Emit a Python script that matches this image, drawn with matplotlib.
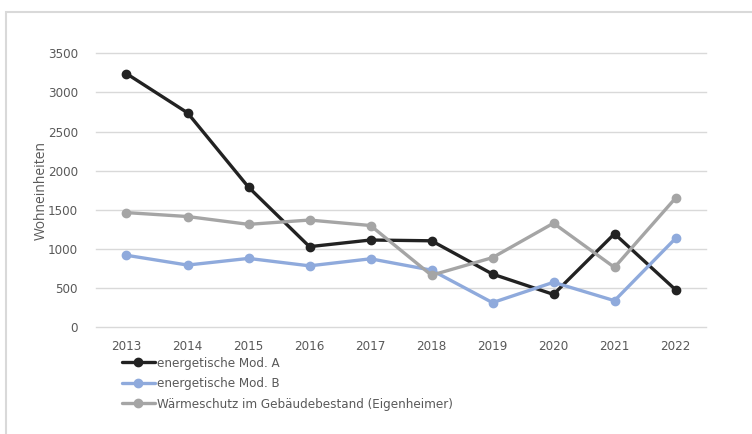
import matplotlib
matplotlib.use("Agg")
import matplotlib.pyplot as plt
import matplotlib.patches as patches

years = ["2013", "2014", "2015", "2016", "2017", "2018", "2019", "2020", "2021", "2022"]
mod_a = [3240, 2740, 1790, 1030, 1115, 1105, 680, 420, 1195, 480]
mod_b = [920, 795, 880, 785, 875, 730, 315, 575, 340, 1135]
waermeschutz = [1465, 1415, 1315, 1370, 1300, 665, 890, 1330, 765, 1650]

series = [
    ("energetische Mod. A", mod_a, "#222222"),
    ("energetische Mod. B", mod_b, "#8FAADC"),
    ("Wärmeschutz im Gebäudebestand (Eigenheimer)", waermeschutz, "#A5A5A5"),
]

tick_font = ["DejaVu Sans"]
text_color = "#595959"

fig = plt.figure(figsize=(7.52, 4.34), dpi=100)
fig.patch.set_facecolor("white")

# thin frame around the chart area
fig.patches.append(patches.Rectangle((6 / 752, -0.05), 1.1, (434 - 12) / 434 + 0.05,
                                     transform=fig.transFigure, fill=False,
                                     edgecolor="#D9D9D9", linewidth=1.5))

ax = fig.add_axes([96 / 752, 1 - 327.3 / 434, (706 - 96) / 752, (327.3 - 53.3) / 434])
ax.patch.set_visible(False)

x = list(range(len(years)))
for label, values, color in series:
    ax.plot(x, values, color=color, linewidth=2.4, marker="o", markersize=6,
            label=label, solid_capstyle="round", zorder=3)

ax.set_xlim(-0.5, len(years) - 0.5)
ax.set_ylim(0, 3500)
ax.set_yticks(range(0, 3501, 500))
ax.set_xticks(x)
ax.set_xticklabels(years)
ax.grid(axis="y", color="#D9D9D9", linewidth=1.0)
for gl in ax.get_ygridlines():
    gl.set_clip_on(False)
ax.set_axisbelow(True)
ax.tick_params(length=0, labelsize=9.5, labelcolor=text_color)
ax.tick_params(axis="y", pad=13)
ax.tick_params(axis="x", pad=9)
for lbl in ax.get_xticklabels() + ax.get_yticklabels():
    lbl.set_family(tick_font)
    lbl.set_stretch("condensed")
for spine in ax.spines.values():
    spine.set_visible(False)

ax.set_ylabel("Wohneinheiten", fontsize=10, color=text_color,
              family=["Open Sans", "DejaVu Sans"])
ax.yaxis.set_label_coords((49 - 96) / 610, 0.5)

leg = ax.legend(loc="upper left", bbox_to_anchor=(122 / 752, 1 - 357 / 434),
                bbox_transform=fig.transFigure, frameon=False,
                prop={"family": tick_font, "size": 9.5, "stretch": "condensed"},
                handlelength=2.5, handletextpad=0.15, labelspacing=0.55,
                borderaxespad=0, borderpad=0)
for t in leg.get_texts():
    t.set_color(text_color)

fig.savefig("out.png", dpi=100, facecolor="white")
